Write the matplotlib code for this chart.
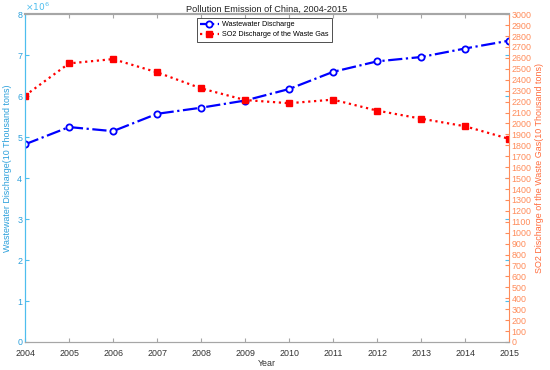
import numpy as np
import matplotlib.pyplot as plt

years = [2004, 2005, 2006, 2007, 2008, 2009, 2010, 2011, 2012, 2013, 2014, 2015]
wastewater = [482.4, 524.5, 514.5, 556.8, 571.7, 589.2, 617.3, 659.2, 684.8, 695.4, 716.2, 735.3]  # in units of 10^4 x 10^4 tons
so2 = [2254.9, 2549.4, 2588.8, 2468.1, 2321.2, 2214.4, 2185.1, 2217.9, 2117.6, 2043.9, 1974.4, 1859.1]

plt.rcParams['font.family'] = ['Liberation Sans', 'DejaVu Sans']

LEFT_C = '#4DBEEE'
LEFT_LABEL_C = '#2A9FDB'
RIGHT_C = '#FF8C5A'
RIGHT_LABEL_C = '#FF6A3A'
AXIS_GRAY = '#A6A6A6'
FS = 6.4

fig = plt.figure(figsize=(5.5, 3.7), dpi=100)
ax = fig.add_axes([0.0455, 0.0757, 0.88, 0.886])
ax2 = ax.twinx()

ww = np.array(wastewater) / 100.0
l1, = ax.plot(years, ww, color='#0000FF', linestyle='-.', linewidth=1.6,
              marker='o', markersize=4.5, markerfacecolor='white',
              markeredgewidth=1.3, label='Wastewater Discharge')
l2, = ax2.plot(years, so2, color='#FF0000', linestyle=':', linewidth=1.6,
               marker='s', markersize=3.8, markerfacecolor='#FF0000',
               label='SO2 Discharge of the Waste Gas')

ax.set_xlim(2004, 2015)
ax.set_ylim(0, 8)
ax2.set_ylim(0, 3000)
ax.set_xticks(years)
ax.set_yticks(range(0, 9))
ax2.set_yticks(range(0, 3001, 100))

ax.tick_params(axis='x', direction='in', length=3, colors='#333333', labelsize=FS,
               top=True, color=AXIS_GRAY, pad=5)
ax.tick_params(axis='y', direction='in', length=3, colors=LEFT_C, labelsize=FS,
               labelcolor=LEFT_LABEL_C, right=True, pad=2)
ax2.tick_params(axis='y', direction='in', length=3, colors=RIGHT_C, labelsize=FS,
                labelcolor=RIGHT_C, pad=2)

for s in ['top', 'bottom']:
    ax.spines[s].set_color(AXIS_GRAY)
    ax2.spines[s].set_color(AXIS_GRAY)
ax.spines['top'].set_linewidth(1.5)
ax2.spines['top'].set_linewidth(1.5)
ax.spines['left'].set_color(LEFT_C)
ax2.spines['left'].set_color(LEFT_C)
ax2.spines['right'].set_color(RIGHT_C)
ax.spines['right'].set_visible(False)

ax.text(0.0, 1.005, r'$\times10^6$', transform=ax.transAxes, fontsize=6.5,
        color=LEFT_C, ha='left', va='bottom')

ax.set_title('Pollution Emission of China, 2004-2015', fontsize=6.6, color='#222222', pad=2)
ax.set_xlabel('Year', fontsize=FS, color='#333333', labelpad=1)
ax.set_ylabel('Wastewater Discharge(10 Thousand tons)', fontsize=FS, color=LEFT_LABEL_C)
ax2.set_ylabel('SO2 Discharge of the Waste Gas(10 Thousand tons)', fontsize=FS,
               color=RIGHT_LABEL_C)
ax.yaxis.set_label_coords(-0.027, 0.53)
ax2.yaxis.set_label_coords(1.054, 0.53)

leg = ax.legend(handles=[l1, l2], loc='upper left', bbox_to_anchor=(0.355, 0.988),
                borderaxespad=0, fontsize=5.2, frameon=True, fancybox=False, framealpha=1,
                edgecolor='#333333', handlelength=2.6, borderpad=0.45,
                labelspacing=0.4, handletextpad=0.4)
leg.get_frame().set_linewidth(0.6)

fig.savefig('out.png', dpi=100)
